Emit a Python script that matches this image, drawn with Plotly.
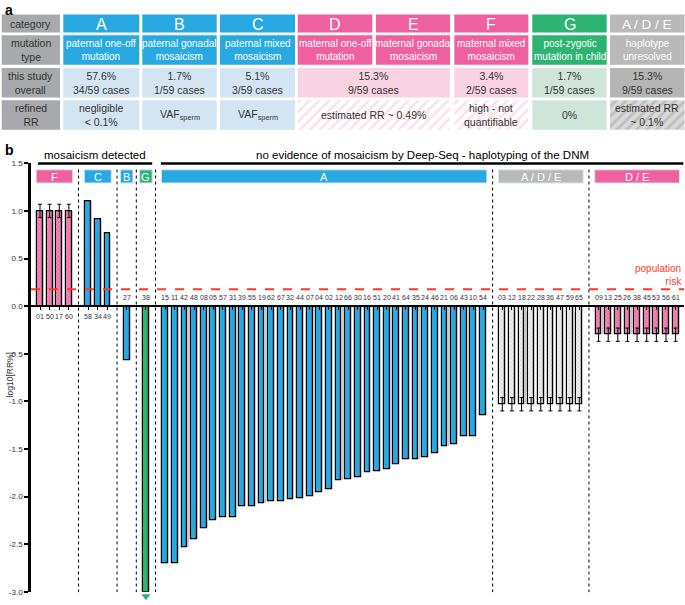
import plotly.graph_objects as go

# ---------------- panel a : table content ----------------
row_headers = ["category", "mutation<br>type", "this study<br>overall", "refined<br>RR"]
tbl_categories = ["A", "B", "C", "D", "E", "F", "G", "A / D / E"]
tbl_types = ["paternal one-off<br>mutation", "paternal gonadal<br>mosaicism", "paternal mixed<br>mosaicism",
             "maternal one-off<br>mutation", "maternal gonadal<br>mosaicism", "maternal mixed<br>mosaicism",
             "post-zygotic<br>mutation in child", "haplotype<br>unresolved"]
tbl_overall = ["57.6%<br>34/59 cases", "1.7%<br>1/59 cases", "5.1%<br>3/59 cases",
               "15.3%<br>9/59 cases", None, "3.4%<br>2/59 cases", "1.7%<br>1/59 cases", "15.3%<br>9/59 cases"]
tbl_rr = ["negligible<br>&lt; 0.1%", "VAF<sub>sperm</sub>", "VAF<sub>sperm</sub>",
          "estimated RR ~ 0.49%", None, "high - not<br>quantifiable", "0%", "estimated RR<br>~ 0.1%"]

# ---------------- panel b : bar data ----------------
F_labels = ["01", "50", "17", "60"]
F_values = [1.0, 1.0, 1.0, 1.0]
F_err = [0.07, 0.07, 0.07, 0.07]
C_labels = ["58", "34", "49"]
C_values = [1.10, 0.91, 0.76]
B_labels = ["27"]
B_values = [-0.57]
G_labels = ["38"]
G_values = [-3.0]
A_labels = ["15", "11", "42", "48", "08", "05", "57", "31", "39", "55", "19", "62", "67", "32", "44", "07", "04",
            "02", "12", "66", "30", "16", "51", "20", "41", "64", "35", "24", "46", "21", "06", "43", "10", "54"]
A_values = [-2.70, -2.70, -2.53, -2.45, -2.33, -2.25, -2.22, -2.22, -2.10, -2.10, -2.07, -2.05, -2.05, -2.03,
            -2.02, -2.00, -1.96, -1.92, -1.83, -1.82, -1.80, -1.74, -1.73, -1.71, -1.66, -1.61, -1.61, -1.59,
            -1.55, -1.47, -1.45, -1.37, -1.37, -1.15]
ADE_labels = ["03", "12", "18", "22", "28", "36", "47", "59", "65"]
ADE_values = [-1.03] * 9
ADE_err = [0.07] * 9
DE_labels = ["09", "13", "25", "26", "38", "45", "53", "56", "61"]
DE_values = [-0.30] * 9
DE_err = [0.07] * 9
population_risk = 0.176

FONT = "Liberation Sans, Arial, sans-serif"
BLUE, PINK, GREEN, GRAYH, GRAYC = "#29A9E1", "#EE60A0", "#2DB473", "#A7A9AC", "#B9B9B9"
LBLUE, LPINK, LGREEN = "#D3E5F3", "#F9D3E2", "#CFE5DA"

W, H = 685, 605
# main plot area in pixels
PX_L, PX_R, PX_T, PX_B = 31, 684, 161.7, 596.7
XR = [-0.935, 66.87]
YR = [-3.0, 1.5]


def sx(v):  # slot -> pixel
    return PX_L + (v - XR[0]) / (XR[1] - XR[0]) * (PX_R - PX_L)


def sy(v):  # value -> pixel
    return PX_B - (v - YR[0]) / (YR[1] - YR[0]) * (PX_B - PX_T)


fig = go.Figure()
shapes, annos = [], []

# ---------------- table ----------------
col_x = [(1.7, 60), (63.3, 139.3), (142.3, 216.7), (220, 295), (297.7, 372.3), (376, 450),
         (454.3, 528.3), (532.3, 606.7), (610, 684.5)]
row_y = [(10.7, 29), (31.7, 61.7), (65, 95), (97.7, 127.7)]
strong = [BLUE, BLUE, BLUE, PINK, PINK, PINK, GREEN, GRAYC]
light = [LBLUE, LBLUE, LBLUE, LPINK, LPINK, LPINK, LGREEN, "#B5B5B5"]


def rect(x0, x1, y0, y1, color):
    shapes.append(dict(type="rect", xref="x2", yref="y2", x0=x0, x1=x1, y0=y0, y1=y1,
                       fillcolor=color, line=dict(width=0), layer="below"))


def hatch(x0, x1, y0, y1, bg, fg):
    fig.add_trace(go.Scatter(x=[x0, x1, x1, x0, x0], y=[y0, y0, y1, y1, y0], xaxis="x2", yaxis="y2",
                             mode="lines", line=dict(width=0), fill="toself", fillcolor=bg,
                             fillpattern=dict(shape="/", bgcolor=bg, fgcolor=fg, size=7, solidity=0.4),
                             hoverinfo="skip", showlegend=False))


def text(x, y, s, size, color):
    annos.append(dict(x=x, y=y, xref="x2", yref="y2", text=s, showarrow=False,
                      font=dict(family=FONT, size=size, color=color), align="center"))


for r, hdr in enumerate(row_headers):
    y0, y1 = row_y[r]
    rect(col_x[0][0], col_x[0][1], y0, y1, GRAYH)
    text((col_x[0][0] + col_x[0][1]) / 2, (y0 + y1) / 2, hdr, 10.5, "#333333")

for i in range(8):
    x0, x1 = col_x[i + 1]
    cx = (x0 + x1) / 2
    y0, y1 = row_y[0]
    rect(x0, x1, y0, y1, strong[i])
    text(cx, (y0 + y1) / 2 + 0.5, tbl_categories[i], 16 if i < 7 else 13.5, "white")
    y0, y1 = row_y[1]
    rect(x0, x1, y0, y1, strong[i])
    text(cx, (y0 + y1) / 2, tbl_types[i], 10, "white")

y0, y1 = row_y[2]
for i in range(8):
    if tbl_overall[i] is None:
        continue
    x0, x1 = col_x[i + 1]
    if i == 3:
        x1 = col_x[5][1]
    rect(x0, x1, y0, y1, light[i])
    text((x0 + x1) / 2, (y0 + y1) / 2, tbl_overall[i], 10.5, "#333333")

y0, y1 = row_y[3]
for i in range(8):
    if tbl_rr[i] is None:
        continue
    x0, x1 = col_x[i + 1]
    if i == 3:
        x1 = col_x[5][1]
    if i in (3, 5):
        hatch(x0, x1, y0, y1, "#FFFFFF", "#F7C5DA")
    elif i == 7:
        hatch(x0, x1, y0, y1, "#D9D9D9", "#A3A3A3")
    else:
        rect(x0, x1, y0, y1, light[i])
    text((x0 + x1) / 2, (y0 + y1) / 2, tbl_rr[i], 10.5, "#333333")

annos.append(dict(x=3, y=6, xref="x2", yref="y2", text="<b>a</b>", showarrow=False, xanchor="left",
                  font=dict(family=FONT, size=14, color="black")))
annos.append(dict(x=3, y=148, xref="x2", yref="y2", text="<b>b</b>", showarrow=False, xanchor="left",
                  font=dict(family=FONT, size=14, color="black")))

# ---------------- bars ----------------
groups = [
    dict(name="F", labels=F_labels, values=F_values, err=F_err, color=PINK, box=PINK, kind="pink"),
    dict(name="C", labels=C_labels, values=C_values, err=None, color=BLUE, box=BLUE, kind="solid"),
    dict(name="B", labels=B_labels, values=B_values, err=None, color=BLUE, box=BLUE, kind="solid"),
    dict(name="G", labels=G_labels, values=G_values, err=None, color=GREEN, box=GREEN, kind="solid"),
    dict(name="A", labels=A_labels, values=A_values, err=None, color=BLUE, box=BLUE, kind="solid"),
    dict(name="A / D / E", labels=ADE_labels, values=ADE_values, err=ADE_err, color="#DDDDDD", box=GRAYC,
         kind="gray"),
    dict(name="D / E", labels=DE_labels, values=DE_values, err=DE_err, color=PINK, box=PINK, kind="pink"),
]

start = 0
all_slots = []
for g in groups:
    slots = list(range(start, start + len(g["values"])))
    g["slots"] = slots
    all_slots += slots
    start = slots[-1] + 2

for g in groups:
    marker = dict(color=g["color"], line=dict(color="black", width=1.2))
    if g["kind"] == "pink":
        marker["pattern"] = dict(shape="x", bgcolor="#EE6FA9", fgcolor="#FBD6E7", size=3, solidity=0.35)
    elif g["kind"] == "gray":
        marker["pattern"] = dict(shape="x", bgcolor="#EFEFEF", fgcolor="#B5B5B5", size=3, solidity=0.35)
    fig.add_trace(go.Bar(x=[s + 0.12 for s in g["slots"]], y=g["values"], width=0.6,
                         marker=dict(color="rgba(0,0,0,0.22)", line=dict(width=0)),
                         hoverinfo="skip", showlegend=False))
    fig.add_trace(go.Bar(x=g["slots"], y=g["values"], width=0.6, marker=marker, showlegend=False,
                         error_y=dict(type="data", array=g["err"], color="black", thickness=1, width=2,
                                      visible=g["err"] is not None)))
    for s, lab, v in zip(g["slots"], g["labels"], g["values"]):
        annos.append(dict(x=s, y=0, xref="x", yref="y", text=lab, showarrow=False,
                          yshift=-10 if v > 0 else 9, font=dict(family=FONT, size=7, color="#333333")))
    pad = 0.4 if len(g["slots"]) > 1 else 0.65
    bx0, bx1 = sx(g["slots"][0] - pad), sx(g["slots"][-1] + pad)
    shapes.append(dict(type="rect", xref="x2", yref="y2", x0=bx0, x1=bx1, y0=168.3, y1=181.7,
                       fillcolor=g["box"], line=dict(color="#D6E6F0", width=1)))
    annos.append(dict(x=(bx0 + bx1) / 2, y=175.2, xref="x2", yref="y2", text=g["name"], showarrow=False,
                      font=dict(family=FONT, size=11, color="white")))

# separators
for g in groups[:-1]:
    sep = g["slots"][-1] + 1
    shapes.append(dict(type="line", xref="x2", yref="y2", x0=sx(sep), x1=sx(sep), y0=168, y1=597,
                       line=dict(color="black", width=1, dash="dot")))

# population risk
shapes.append(dict(type="line", xref="x domain", yref="y", x0=0, x1=1, y0=population_risk, y1=population_risk,
                   line=dict(color="#FF3B1F", width=2, dash="dash")))
annos.append(dict(x=684, y=sy(population_risk) - 15, xref="x2", yref="y2", text="population<br>risk",
                  showarrow=False, xanchor="right", yanchor="middle", align="right",
                  font=dict(family=FONT, size=10, color="#FF3B1F")))

# group headers
hdrs = [("mosaicism detected", groups[0]["slots"][0] - 0.2, groups[3]["slots"][-1] + 0.65),
        ("no evidence of mosaicism by Deep-Seq - haplotyping of the DNM", groups[4]["slots"][0] - 0.45,
         groups[6]["slots"][-1] + 0.8)]
for t, a, b in hdrs:
    shapes.append(dict(type="line", xref="x2", yref="y2", x0=sx(a), x1=sx(b), y0=162, y1=162,
                       line=dict(color="black", width=2.5)))
    annos.append(dict(x=(sx(a) + sx(b)) / 2, y=153, xref="x2", yref="y2", text=t, showarrow=False,
                      font=dict(family=FONT, size=11.5, color="black")))

# y title
annos.append(dict(x=10, y=377, xref="x2", yref="y2", text="log10[RR%]", showarrow=False, textangle=-90,
                  font=dict(family=FONT, size=8.5, color="#333333")))

# arrow below the G bar (value off scale), drawn on the pixel overlay
gG = groups[3]
fig.add_trace(go.Scatter(x=[sx(s) for s in gG["slots"]], y=[sy(gG["values"][0]) + 4.5], xaxis="x2", yaxis="y2",
                         mode="markers", cliponaxis=False, hoverinfo="skip",
                         marker=dict(symbol="triangle-down", size=8, color=GREEN), showlegend=False))

yd0, yd1 = 1 - PX_B / H, 1 - PX_T / H
zero_pos = yd0 + (0 - YR[0]) / (YR[1] - YR[0]) * (yd1 - yd0)
ytv = [-3.0, -2.5, -2.0, -1.5, -1.0, -0.5, 0.0, 0.5, 1.0, 1.5]

fig.update_layout(
    width=W, height=H, margin=dict(l=0, r=0, t=0, b=0),
    paper_bgcolor="white", plot_bgcolor="rgba(0,0,0,0)",
    barmode="overlay", bargap=0,
    font=dict(family=FONT),
    xaxis=dict(domain=[PX_L / W, PX_R / W], range=XR, anchor="free", position=zero_pos,
               showline=True, linecolor="black", linewidth=2, showgrid=False, zeroline=False,
               tickvals=all_slots, ticks="outside", ticklen=3, tickwidth=1.2, tickcolor="black",
               showticklabels=False),
    yaxis=dict(domain=[yd0, yd1], range=YR, anchor="x", showline=True, linecolor="black", linewidth=2.5,
               showgrid=False, zeroline=False, ticks="outside", ticklen=4, tickwidth=1.5, tickcolor="black",
               tickvals=ytv, ticktext=[f"{v:.1f}" for v in ytv],
               tickfont=dict(family=FONT, size=8, color="#333333")),
    xaxis2=dict(domain=[0, 1], range=[0, W], anchor="y2", visible=False, fixedrange=True),
    yaxis2=dict(domain=[0, 1], range=[H, 0], anchor="x2", visible=False, fixedrange=True),
    shapes=shapes, annotations=annos, showlegend=False,
)

fig.write_html("out.html", config={"displayModeBar": False},
               post_script="document.body.style.margin='0';document.body.style.overflow='hidden';")
